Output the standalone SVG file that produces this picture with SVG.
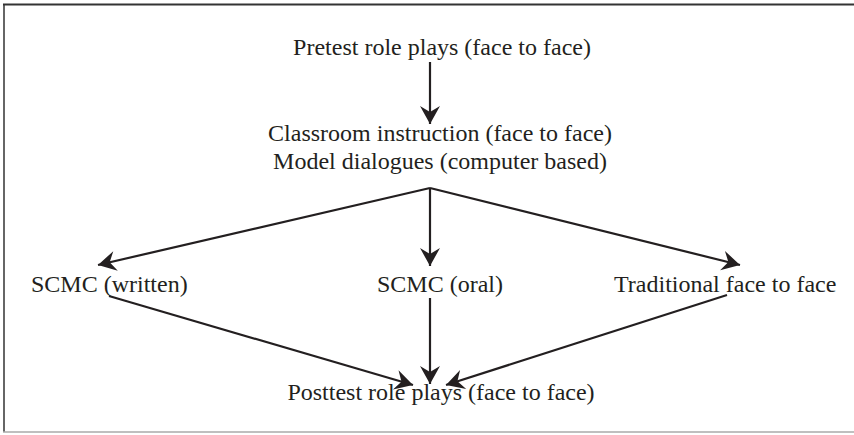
<svg xmlns="http://www.w3.org/2000/svg" width="854" height="435" viewBox="0 0 854 435">
<style>
.t{font-family:"Liberation Serif","Times New Roman",serif;font-size:24px;fill:#231f20}
.c{fill:none;stroke:#231f20;stroke-width:2.2}
</style>
<defs>
<marker id="ah" markerUnits="userSpaceOnUse" markerWidth="24" markerHeight="24" viewBox="-20 -12 24 24" refX="0" refY="0" orient="auto">
<path d="M0,0 L-18,-10 L-12,0 L-18,10 Z" fill="#231f20"/>
</marker>
</defs>
<rect x="0" y="0" width="854" height="435" fill="#ffffff"/>
<line x1="3" y1="4.5" x2="854" y2="4.5" stroke="#333" stroke-width="2"/>
<line x1="4" y1="4" x2="4" y2="432" stroke="#333" stroke-width="1.5"/>
<line x1="3" y1="432" x2="854" y2="432" stroke="#aaa" stroke-width="1.5"/>
<g id="connectors">
<line class="c" x1="430" y1="62" x2="430" y2="124" marker-end="url(#ah)"/>
<line class="c" x1="430" y1="188" x2="98" y2="265" marker-end="url(#ah)"/>
<line class="c" x1="430" y1="188" x2="430" y2="266" marker-end="url(#ah)"/>
<line class="c" x1="430" y1="188" x2="740" y2="265" marker-end="url(#ah)"/>
<line class="c" x1="109" y1="296" x2="413" y2="385" marker-end="url(#ah)"/>
<line class="c" x1="430" y1="298" x2="430" y2="384" marker-end="url(#ah)"/>
<line class="c" x1="727" y1="295" x2="446" y2="385" marker-end="url(#ah)"/>
</g>
<g id="pretest"><text class="t" x="442" y="55" text-anchor="middle">Pretest role plays (face to face)</text></g>
<g id="instruction"><text class="t" x="440" y="141" text-anchor="middle">Classroom instruction (face to face)</text><text class="t" x="440" y="169" text-anchor="middle">Model dialogues (computer based)</text></g>
<g id="written"><text class="t" x="31" y="292">SCMC (written)</text></g>
<g id="oral"><text class="t" x="377" y="292">SCMC (oral)</text></g>
<g id="traditional"><text class="t" x="614" y="292">Traditional face to face</text></g>
<g id="posttest"><text class="t" x="441" y="400" text-anchor="middle">Posttest role plays (face to face)</text></g>
</svg>
